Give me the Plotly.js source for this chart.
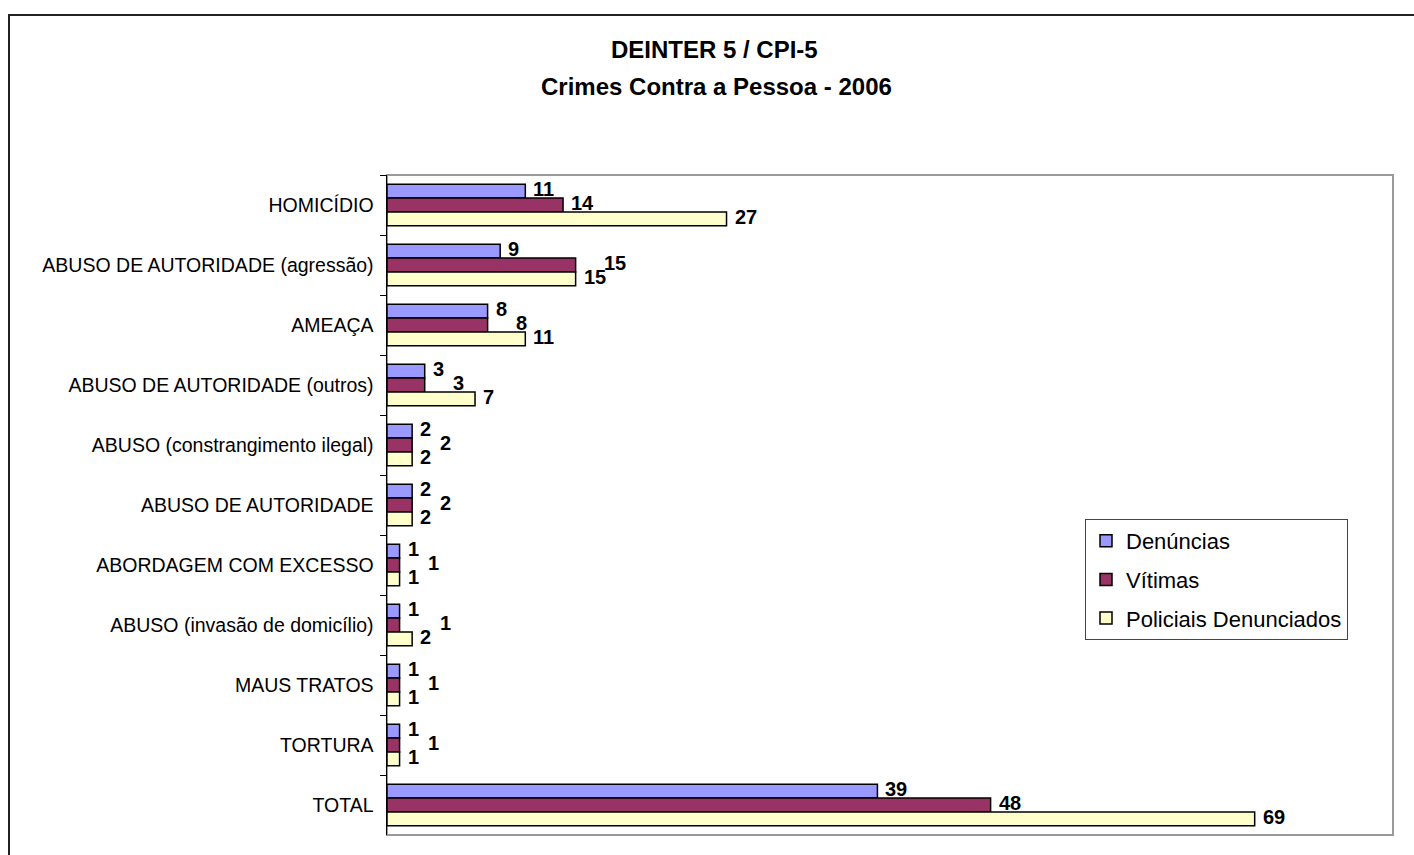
<!DOCTYPE html>
<html>
<head>
<meta charset="utf-8">
<script src="https://cdn.plot.ly/plotly-3.0.1.min.js"></script>
<style>
html,body{margin:0;padding:0;background:#fff;}
#chart{width:1414px;height:855px;}
</style>
</head>
<body>
<div id="chart"></div>
<script>
const categories = [
  "HOMICÍDIO",
  "ABUSO DE AUTORIDADE (agressão)",
  "AMEAÇA",
  "ABUSO DE AUTORIDADE (outros)",
  "ABUSO (constrangimento ilegal)",
  "ABUSO DE AUTORIDADE",
  "ABORDAGEM COM EXCESSO",
  "ABUSO (invasão de domicílio)",
  "MAUS TRATOS",
  "TORTURA",
  "TOTAL"
];
const denuncias = [11, 9, 8, 3, 2, 2, 1, 1, 1, 1, 39];
const vitimas = [14, 15, 8, 3, 2, 2, 1, 1, 1, 1, 48];
const policiais = [27, 15, 11, 7, 2, 2, 1, 2, 1, 1, 69];
const seriesNames = ["Denúncias", "Vítimas", "Policiais Denunciados"];
const seriesColors = ["#9999FF", "#993366", "#FFFFCC"];

const FONT = "Liberation Sans, Arial, sans-serif";
const seriesData = [denuncias, vitimas, policiais];

const traces = seriesData.map((vals, i) => ({
  type: "bar",
  orientation: "h",
  name: seriesNames[i],
  legendgroup: "g" + i,
  x: vals,
  y: categories,
  marker: {color: seriesColors[i], line: {color: "#000", width: 1.5}},
  hoverinfo: "x+y+name"
}));

// pixel layout helpers
const L = 387, R = 1393, T = 175, B = 835, W = 1414, H = 855;
const px = v => (v - L) / (R - L);
const py = v => (B - v) / (B - T);
const XMAX = 80;
const pxPerUnit = (R - L) / XMAX;

// value labels as annotations anchored to each bar end (data coords)
const barOffsets = [-14, 0, 14];
const labelAnns = [];
categories.forEach((cat, c) => {
  const vals = seriesData.map(s => s[c]);
  seriesData.forEach((s, i) => {
    let xs = 6;
    if (i === 1) {
      const nearVals = [vals[0], vals[2]].filter(v => Math.abs(vals[1] - v) * pxPerUnit < 26);
      if (nearVals.length) {
        const maxN = Math.max.apply(null, nearVals);
        xs += 20 + Math.max(0, (maxN - vals[1]) * pxPerUnit);
      }
    }
    labelAnns.push({
      x: s[c], y: cat, xref: "x", yref: "y",
      text: "<b>" + s[c] + "</b>",
      showarrow: false, xanchor: "left", yanchor: "middle",
      xshift: xs, yshift: -barOffsets[i] + 2,
      font: {family: FONT, size: 20, color: "#000"}
    });
  });
});

const layout = {
  width: W, height: H,
  margin: {l: L, r: W - R, t: T, b: H - B, pad: 0},
  paper_bgcolor: "#fff",
  plot_bgcolor: "#fff",
  barmode: "group",
  bargap: 0.31,
  bargroupgap: 0,
  showlegend: true,
  font: {family: FONT, color: "#000"},
  xaxis: {
    range: [0, XMAX],
    showgrid: false, zeroline: false, showticklabels: false,
    ticks: "", showline: false, fixedrange: true
  },
  yaxis: {
    type: "category",
    autorange: "reversed",
    showgrid: false, zeroline: false,
    showline: true, linecolor: "#000", linewidth: 1.5,
    ticks: "outside", ticklen: 6, tickcolor: "#000", tickwidth: 1,
    tickson: "boundaries",
    ticklabelstandoff: 8,
    tickfont: {family: FONT, size: 19.5, color: "#000"},
    fixedrange: true
  },
  legend: {
    x: px(1085), xanchor: "left",
    y: py(519), yanchor: "top",
    bgcolor: "#fff",
    bordercolor: "#444", borderwidth: 1,
    font: {family: FONT, size: 22, color: "#000"},
    traceorder: "grouped",
    tracegroupgap: 7,
    itemwidth: 30
  },
  annotations: [
    {text: "<b>DEINTER 5 / CPI-5</b>", xref: "paper", yref: "paper",
     x: px(714), y: py(50), xanchor: "center", yanchor: "middle", showarrow: false,
     font: {family: FONT, size: 24, color: "#000"}},
    {text: "<b>Crimes Contra a Pessoa - 2006</b>", xref: "paper", yref: "paper",
     x: px(716), y: py(86), xanchor: "center", yanchor: "middle", showarrow: false,
     font: {family: FONT, size: 24, color: "#000"}}
  ].concat(labelAnns),
  shapes: [
    {type: "rect", xref: "paper", yref: "paper", x0: 0, x1: 1, y0: 0, y1: 1,
     line: {color: "#999", width: 2}, layer: "below"},
    {type: "rect", xref: "paper", yref: "paper",
     x0: px(9), x1: px(1440), y0: py(900), y1: py(15),
     line: {color: "#222", width: 2}, layer: "below"}
  ]
};

Plotly.newPlot("chart", traces, layout, {displayModeBar: false, staticPlot: true});
</script>
</body>
</html>
